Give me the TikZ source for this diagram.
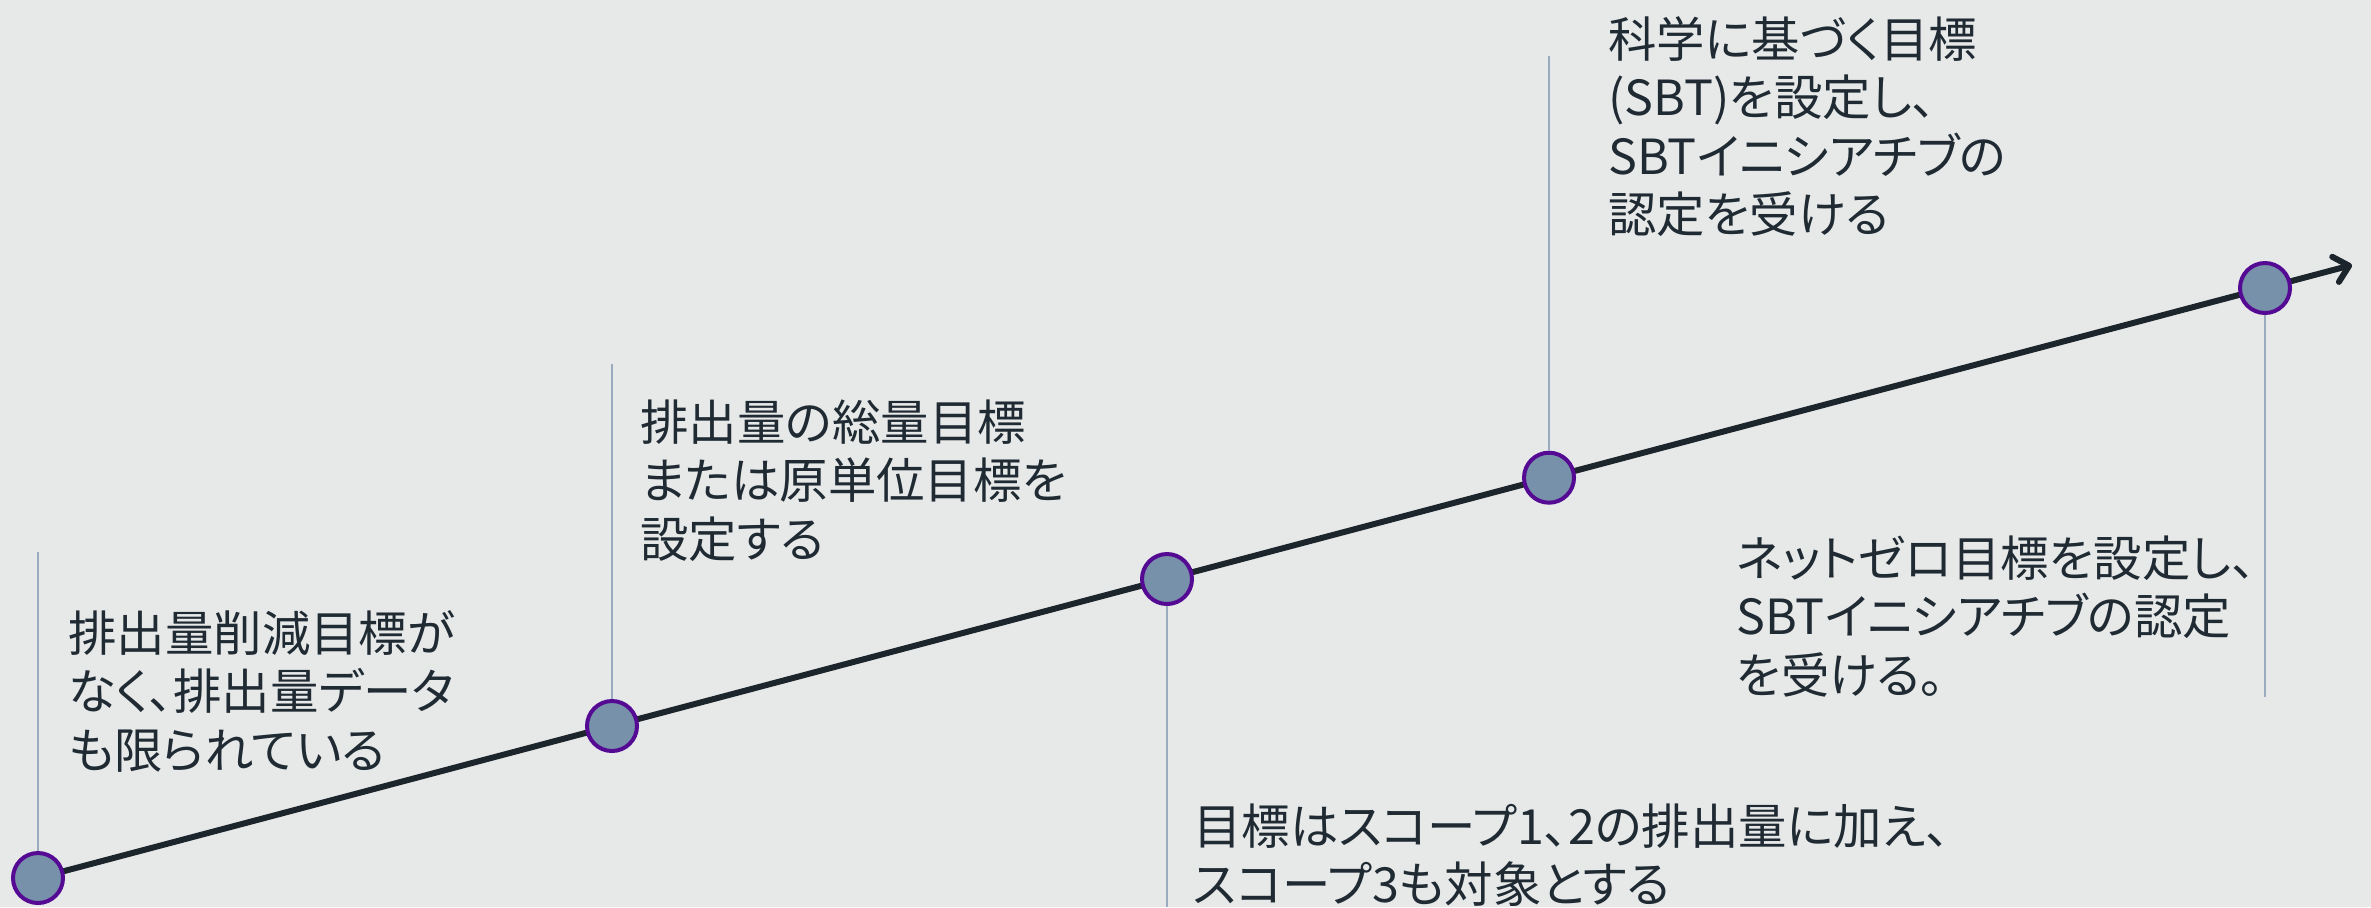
\documentclass[tikz,border=0pt]{standalone}
\usepackage{fontspec}
\setmainfont{Noto Sans CJK JP}[RawFeature=+palt]
\usetikzlibrary{arrows.meta,backgrounds}
\definecolor{bgc}{HTML}{E7E9E9}
\definecolor{linec}{HTML}{1C252B}
\definecolor{dotfill}{HTML}{7891AB}
\definecolor{dotring}{HTML}{550A93}
\definecolor{vlinec}{HTML}{9AABC0}
\definecolor{txtc}{HTML}{1F2A33}
\tikzset{
  dot/.style={circle,draw=dotring,fill=dotfill,line width=2pt,minimum size=25pt,inner sep=0pt},
  vline/.style={draw=vlinec,line width=1pt},
  mainline/.style={draw=linec,line width=3pt,-{Straight Barb[length=7pt,width=13pt,round]}},
  txt/.style={text=txtc,font=\fontsize{24.2pt}{29.25pt}\selectfont,align=left,text width=700pt,inner sep=0pt,anchor=base west}
}
\begin{document}
\begin{tikzpicture}[x=0.5pt,y=-0.5pt]
\useasboundingbox (0,0) rectangle (2371,907);
% milestones
\node[dot] (c1) at (38,878) {};
\node[dot] (c2) at (612,726) {};
\node[dot] (c3) at (1167,579) {};
\node[dot] (c4) at (1549,477.7) {};
\node[dot] (c5) at (2265,288) {};
\coordinate (tip) at (2352,265);
\coordinate (v1) at (38,552);
\coordinate (v2) at (612,364);
\coordinate (v3) at (1167,907);
\coordinate (v4) at (1549,56);
\coordinate (v5) at (2265,697);
\begin{scope}[on background layer]
\fill[bgc] (0,0) rectangle (2371,907);
\draw[mainline] (c1.center) -- (tip);
\end{scope}
\draw[vline] (v1) -- (c1);
\draw[vline] (v2) -- (c2);
\draw[vline] (c3) -- (v3);
\draw[vline] (v4) -- (c4);
\draw[vline] (c5) -- (v5);
% labels
\node[txt] (t1) at (68,651) {排出量削減目標が\\なく、排出量データ\\も限られている};
\node[txt] (t2) at (640,440) {排出量の総量目標\\または原単位目標を\\設定する};
\node[txt] (t3) at (1193,844) {目標はスコープ1、2の排出量に加え、\\スコープ3も対象とする};
\node[txt] (t4) at (1608,57) {科学に基づく目標\\(SBT)を設定し、\\SBTイニシアチブの\\認定を受ける};
\node[txt] (t5) at (1736,576) {ネットゼロ目標を設定し、\\SBTイニシアチブの認定\\を受ける。};
\end{tikzpicture}
\end{document}
